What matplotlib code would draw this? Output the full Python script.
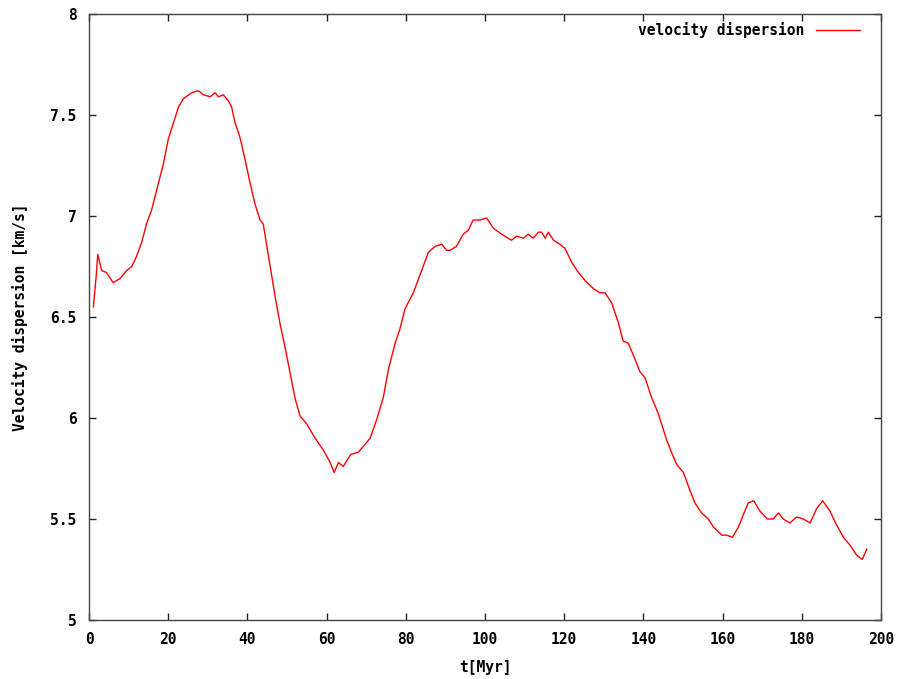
import matplotlib
matplotlib.use("Agg")
import matplotlib.pyplot as plt
import numpy as np

# time [Myr] and velocity dispersion [km/s]
t = [1.1, 1.8, 2.2, 3.2, 4.4, 6.1, 7.8, 9.5, 10.8, 12.0, 13.3, 14.5, 15.8,
     17.1, 18.8, 20.0, 21.3, 22.6, 23.8, 25.9, 27.6, 28.9, 30.6, 31.8, 32.7,
     33.9, 35.2, 36.0, 36.9, 38.1, 39.4, 40.7, 41.9, 43.2, 44.0, 45.5, 47.0,
     48.2, 49.5, 50.8, 52.0, 53.3, 55.0, 57.1, 59.2, 60.9, 61.9, 63.0, 64.2,
     66.1, 68.0, 69.3, 71.0, 72.6, 74.3, 75.6, 77.3, 78.5, 79.8, 81.9, 84.0,
     85.7, 87.4, 89.1, 90.3, 91.2, 92.8, 94.5, 95.8, 97.0, 98.7, 100.4, 102.1,
     104.2, 106.7, 108.0, 109.7, 110.9, 112.2, 113.5, 114.3, 115.2, 116.0,
     117.3, 118.9, 120.2, 121.9, 123.6, 125.3, 127.4, 129.0, 130.3, 132.0,
     133.7, 134.9, 136.2, 137.9, 139.1, 140.4, 142.1, 143.8, 145.9, 147.1,
     148.4, 150.1, 151.8, 153.0, 154.7, 156.4, 157.7, 159.8, 161.0, 162.5,
     164.0, 165.2, 166.5, 167.9, 169.4, 171.3, 172.8, 174.1, 175.3, 177.0,
     178.7, 180.4, 182.1, 183.7, 185.3, 187.1, 188.8, 190.5, 192.2, 193.9,
     195.3, 196.4]
sigma = [6.55, 6.70, 6.81, 6.73, 6.72, 6.67, 6.69, 6.73, 6.75, 6.80, 6.87,
         6.96, 7.03, 7.13, 7.26, 7.38, 7.46, 7.54, 7.58, 7.61, 7.62, 7.60,
         7.59, 7.61, 7.59, 7.60, 7.57, 7.54, 7.46, 7.39, 7.28, 7.16, 7.06,
         6.98, 6.96, 6.78, 6.60, 6.47, 6.35, 6.22, 6.10, 6.01, 5.97, 5.90,
         5.84, 5.78, 5.73, 5.78, 5.76, 5.82, 5.83, 5.86, 5.90, 5.99, 6.10,
         6.24, 6.37, 6.44, 6.54, 6.62, 6.73, 6.82, 6.85, 6.86, 6.83, 6.83,
         6.85, 6.91, 6.93, 6.98, 6.98, 6.99, 6.94, 6.91, 6.88, 6.90, 6.89,
         6.91, 6.89, 6.92, 6.92, 6.89, 6.92, 6.88, 6.86, 6.84, 6.77, 6.72,
         6.68, 6.64, 6.62, 6.62, 6.57, 6.47, 6.38, 6.37, 6.29, 6.23, 6.20,
         6.10, 6.02, 5.89, 5.83, 5.77, 5.73, 5.64, 5.58, 5.53, 5.50, 5.46,
         5.42, 5.42, 5.41, 5.46, 5.52, 5.58, 5.59, 5.54, 5.50, 5.50, 5.53,
         5.50, 5.48, 5.51, 5.50, 5.48, 5.55, 5.59, 5.54, 5.47, 5.41, 5.37,
         5.32, 5.30, 5.35]

xticks = np.arange(0, 201, 20)
yticks = [5, 5.5, 6, 6.5, 7, 7.5, 8]
ytick_labels = ["5", "5.5", "6", "6.5", "7", "7.5", "8"]

plt.rcParams['font.family'] = ['DejaVu Sans Mono']
plt.rcParams['font.weight'] = 'bold'

fig = plt.figure(figsize=(9.03, 6.79), dpi=100)
ax = fig.add_axes([0.0986, 0.0869, 0.8770, 0.8925])

ax.plot(t, sigma, color='#ff0000', linewidth=1.0, label='velocity dispersion')

ax.set_xlim(0, 200)
ax.set_ylim(5, 8)
ax.set_xticks(xticks)
ax.set_xticklabels([str(v) for v in xticks])
ax.set_yticks(yticks)
ax.set_yticklabels(ytick_labels)

ax.tick_params(direction='in', length=5, width=1, top=True, right=True,
               labelsize=10.5, colors='#222222', labelcolor='black')
ax.tick_params(axis='x', pad=9)
ax.tick_params(axis='y', pad=9)
for s in ax.spines.values():
    s.set_linewidth(1.0)
    s.set_color('#444444')

ax.set_xlabel('t[Myr]', fontsize=10.5, fontweight='bold', labelpad=9)
ax.set_ylabel('Velocity dispersion [km/s]', fontsize=10.5, fontweight='bold',
              labelpad=16)

ax.legend(loc='upper right', frameon=False, markerfirst=False,
          handlelength=3.0, handletextpad=0.8, fontsize=10.5,
          borderaxespad=0.0, bbox_to_anchor=(0.981, 0.997))

fig.savefig('out.png', dpi=100)
